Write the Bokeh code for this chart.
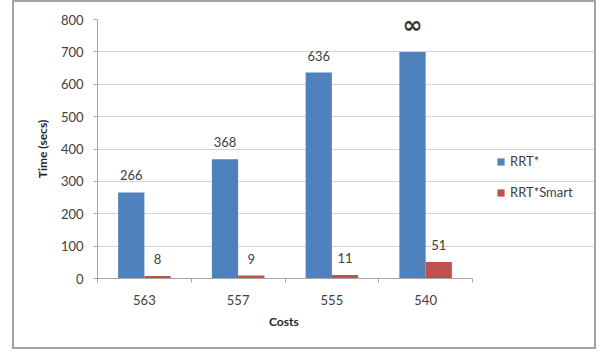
from bokeh.plotting import figure
from bokeh.models import (ColumnDataSource, FixedTicker, Legend, LegendItem,
                          Range1d, LabelSet, Title)
from bokeh.core.properties import value
from bokeh.embed import file_html
from bokeh.resources import INLINE

# Path costs (x categories) and planning time in seconds for each planner
costs = ["563", "557", "555", "540"]
rrt_star = [266, 368, 636, 700]          # last run never finished: bar capped at 700
rrt_star_labels = ["266", "368", "636", "\u221e"]
rrt_star_smart = [8, 9, 11, 51]
rrt_star_smart_labels = ["8", "9", "11", "51"]

BLUE = "#4F81BD"
RED = "#C0504D"
FONT = "Lato"
BAR_W = 0.28

n = len(costs)
idx = list(range(n))
blue_x = [i + 0.5 - BAR_W / 2 for i in idx]
red_x = [i + 0.5 + BAR_W / 2 for i in idx]

src_a = ColumnDataSource(dict(x=blue_x, top=rrt_star, lab=rrt_star_labels))
src_b = ColumnDataSource(dict(x=red_x, top=rrt_star_smart, lab=rrt_star_smart_labels))

# the frame runs to the right edge so the legend can sit beside the bars;
# grid and axis are bounded to the category span
PLOT_W, LEFT = 584, 83
CAT_PX = 375.0
x_end = n * (PLOT_W - LEFT) / CAT_PX

p = figure(width=PLOT_W, height=349, output_backend="svg", toolbar_location=None,
           x_range=Range1d(0, x_end), y_range=Range1d(0, 800),
           min_border_left=LEFT, min_border_right=0, min_border_top=17,
           min_border_bottom=73)
# chart area frame
p.margin = (0, 0, 0, 12)
p.styles = {"border": "2px solid #a3a3a3"}
p.outline_line_color = None
p.background_fill_color = "white"
p.border_fill_color = "white"

r_a = p.vbar(x="x", top="top", width=BAR_W, bottom=0, source=src_a,
             fill_color=BLUE, line_color=None)
r_b = p.vbar(x="x", top="top", width=BAR_W, bottom=0, source=src_b,
             fill_color=RED, line_color=None)

# value labels above the bars
label_style = dict(text_align="center", text_baseline="bottom", y_offset=12,
                   text_font=value(FONT), text_font_size="13px", text_color="#404040")
num_a = ColumnDataSource(dict(x=blue_x[:3], top=rrt_star[:3], lab=rrt_star_labels[:3]))
p.add_layout(LabelSet(x="x", y="top", text="lab", source=num_a, **label_style))
p.add_layout(LabelSet(x="x", y="top", text="lab", source=src_b, **label_style))
inf_src = ColumnDataSource(dict(x=blue_x[3:], top=rrt_star[3:], lab=rrt_star_labels[3:]))
p.add_layout(LabelSet(x="x", y="top", text="lab", source=inf_src, text_align="center",
                      text_baseline="bottom", y_offset=13,
                      text_font=value("DejaVu Sans"), text_font_size="24px",
                      text_font_style="bold", text_color="#333333"))

# x axis: labels at group centres, ticks at group boundaries
xa = p.xaxis[0]
xa.bounds = (0, n)
xa.ticker = FixedTicker(ticks=[i + 0.5 for i in idx], minor_ticks=list(range(n + 1)))
xa.major_label_overrides = {i + 0.5: c for i, c in zip(idx, costs)}
xa.major_tick_line_color = None
xa.minor_tick_in = 0
xa.minor_tick_out = 4
xa.minor_tick_line_color = "#a6a6a6"
xa.axis_line_color = "#a6a6a6"
xa.major_label_standoff = 10
xa.major_label_text_font = FONT
xa.major_label_text_font_size = "13px"
xa.major_label_text_color = "#404040"

# x axis title, centred under the category span
p.add_layout(Title(text="Costs", align="left", offset=CAT_PX / 2 - 16, standoff=8,
                   text_font=FONT, text_font_size="12px", text_font_style="bold",
                   text_color="#262626"), "below")

ya = p.yaxis[0]
ya.ticker = FixedTicker(ticks=list(range(0, 801, 100)))
ya.minor_tick_line_color = None
ya.major_tick_in = 0
ya.major_tick_out = 4
ya.major_tick_line_color = "#a6a6a6"
ya.axis_line_color = "#a6a6a6"
ya.major_label_standoff = 10
ya.major_label_text_font = FONT
ya.major_label_text_font_size = "13px"
ya.major_label_text_color = "#404040"
ya.axis_label = "Time (secs)"
ya.axis_label_text_font = FONT
ya.axis_label_text_font_size = "12px"
ya.axis_label_text_font_style = "bold"
ya.axis_label_text_color = "#262626"
ya.axis_label_standoff = 8

p.xgrid.grid_line_color = None
p.ygrid.grid_line_color = "#d4d4d4"
p.ygrid.bounds = (0, n)

legend = Legend(items=[LegendItem(label="RRT*", renderers=[r_a]),
                       LegendItem(label="RRT*Smart", renderers=[r_b])],
                location=(399, 78), orientation="vertical",
                glyph_width=9, glyph_height=9, label_height=14, spacing=15,
                padding=0, margin=0,
                label_text_font=FONT, label_text_font_size="13px",
                label_text_color="#404040", label_standoff=5,
                border_line_color=None, background_fill_alpha=0)
p.add_layout(legend, "center")

open("out.html", "w").write(file_html(p, INLINE))
